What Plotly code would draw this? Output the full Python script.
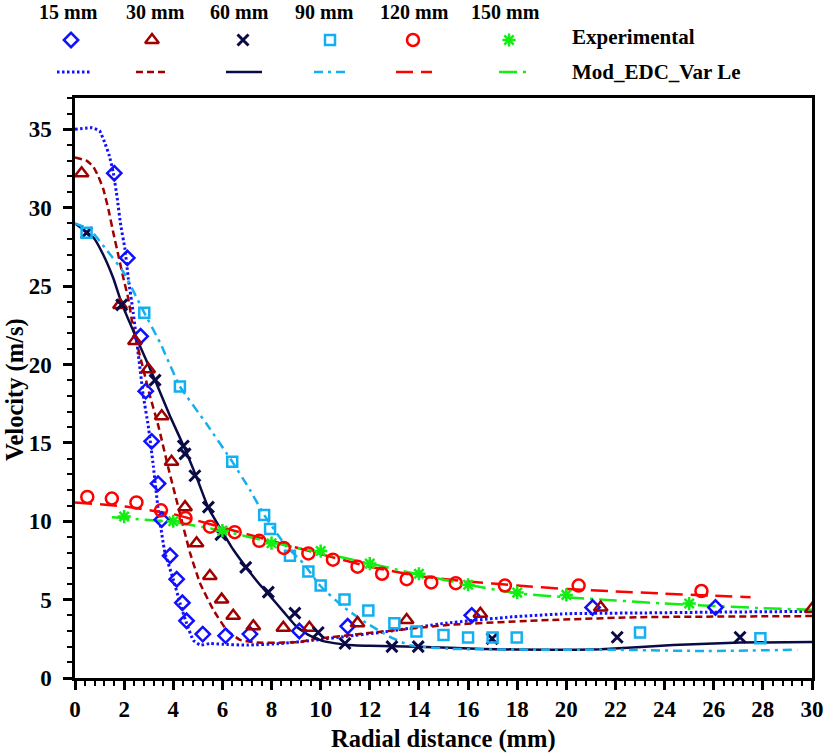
import plotly.graph_objects as go

# ---------------- data ----------------
series_names = ["15 mm", "30 mm", "60 mm", "90 mm", "120 mm", "150 mm"]
series_colors = ["#1010ff", "#a00000", "#0a0a45", "#12b0f0", "#ff0000", "#11ee11"]

# Experimental
exp15_x = [1.6, 2.13, 2.67, 2.88, 3.12, 3.38, 3.53, 3.87, 4.14, 4.37, 4.54, 5.2, 6.13, 7.12, 9.13, 11.1, 16.15, 21.07, 26.07]
exp15_y = [32.2, 26.8, 21.8, 18.3, 15.1, 12.4, 10.1, 7.8, 6.3, 4.8, 3.65, 2.8, 2.7, 2.8, 3.0, 3.3, 4.0, 4.5, 4.5]

exp30_x = [0.27, 1.83, 2.44, 2.98, 3.53, 3.93, 4.48, 4.95, 5.49, 5.97, 6.44, 7.26, 8.48, 9.54, 11.5, 13.5, 16.5, 21.4, 30.0]
exp30_y = [32.2, 23.8, 21.5, 19.7, 16.7, 13.8, 10.9, 8.6, 6.5, 5.0, 3.97, 3.3, 3.2, 3.2, 3.5, 3.7, 4.1, 4.5, 4.4]

exp60_x = [0.47, 1.9, 3.26, 4.41, 4.48, 4.88, 5.43, 5.94, 6.95, 7.87, 8.95, 9.9, 10.99, 12.9, 13.97, 16.98, 22.07, 27.07]
exp60_y = [28.4, 23.8, 19.0, 14.8, 14.3, 12.9, 10.9, 9.15, 7.06, 5.48, 4.14, 2.9, 2.2, 2.0, 2.0, 2.5, 2.6, 2.6]

exp90_x = [0.47, 2.82, 4.27, 6.4, 7.7, 7.94, 8.75, 9.5, 10.0, 10.97, 11.94, 13.0, 13.9, 15.0, 16.0, 17.0, 17.98, 23.0, 27.9]
exp90_y = [28.4, 23.3, 18.6, 13.8, 10.4, 9.5, 7.8, 6.8, 5.9, 5.0, 4.3, 3.5, 2.96, 2.75, 2.58, 2.58, 2.58, 2.9, 2.54]

exp120_x = [0.5, 1.5, 2.5, 3.5, 4.5, 5.5, 6.5, 7.5, 8.5, 9.5, 10.5, 11.5, 12.5, 13.5, 14.5, 15.5, 17.5, 20.5, 25.5]
exp120_y = [11.55, 11.45, 11.2, 10.7, 10.2, 9.65, 9.3, 8.75, 8.3, 7.95, 7.55, 7.1, 6.65, 6.3, 6.1, 6.05, 5.9, 5.9, 5.55]

exp150_x = [2, 4, 6, 8, 10, 12, 14, 16, 18, 20, 25]
exp150_y = [10.3, 10.0, 9.4, 8.6, 8.1, 7.3, 6.65, 5.95, 5.45, 5.3, 4.75]

# Model: Mod_EDC_Var Le
mod15_x = [0, 0.7, 1.0, 1.2, 1.4, 1.55, 1.72, 1.86, 2.03, 2.17, 2.37, 2.58, 2.78, 2.98, 3.19, 3.39, 3.66, 4.0, 4.27, 4.54, 4.82, 5.1, 5.5, 6.0, 7.0, 8.4, 9.7, 11.0, 12.4, 15.1, 17.8, 20.0, 23.0, 26.0, 30.0]
mod15_y = [35.0, 35.1, 34.9, 34.2, 33.3, 32.3, 30.6, 28.9, 27.4, 25.5, 23.3, 20.6, 18.0, 16.1, 13.5, 10.7, 8.0, 6.3, 4.8, 3.5, 2.4, 2.1, 2.2, 2.15, 2.1, 2.2, 2.4, 2.65, 2.9, 3.5, 3.9, 4.1, 4.15, 4.2, 4.25]

mod30_x = [0, 0.47, 0.75, 0.95, 1.15, 1.36, 1.56, 1.76, 1.97, 2.17, 2.37, 2.78, 3.05, 3.39, 3.8, 4.27, 4.68, 5.09, 5.63, 6.17, 6.72, 7.4, 8.48, 9.16, 9.84, 12.5, 15.3, 19.3, 23.0, 30.0]
mod30_y = [33.2, 33.0, 32.6, 32.0, 31.2, 29.9, 28.4, 27.0, 25.5, 24.2, 22.3, 19.7, 18.0, 16.1, 13.4, 10.5, 8.0, 6.05, 4.35, 3.07, 2.43, 2.26, 2.26, 2.3, 2.5, 2.96, 3.4, 3.7, 3.88, 3.95]

mod60_x = [0, 0.75, 1.15, 1.56, 1.9, 2.58, 3.26, 3.87, 4.48, 4.95, 5.43, 6.44, 6.95, 7.5, 7.9, 8.5, 9.0, 9.5, 10.1, 11.0, 12.0, 13.9, 16.6, 19.3, 21.4, 24.35, 27.1, 30.0]
mod60_y = [29.0, 28.1, 27.0, 25.5, 23.9, 21.4, 19.0, 16.7, 14.6, 12.8, 10.85, 8.2, 7.1, 6.0, 5.3, 4.2, 3.3, 2.75, 2.35, 2.12, 2.05, 2.0, 1.85, 1.8, 1.83, 2.1, 2.26, 2.3]

mod90_x = [0, 0.61, 1.29, 1.97, 2.82, 3.46, 4.27, 5.36, 6.4, 7.12, 7.7, 8.6, 9.29, 9.97, 10.9, 11.87, 12.8, 13.6, 15.3, 19.3, 22.0, 25.7, 29.4]
mod90_y = [29.0, 28.6, 27.3, 25.9, 23.3, 21.4, 18.6, 16.2, 13.8, 12.0, 10.4, 8.4, 7.33, 5.9, 4.56, 3.5, 2.64, 2.1, 1.86, 1.8, 1.8, 1.72, 1.8]

mod120_x = [0, 2, 4, 6, 8, 10, 12, 14, 16, 18, 20, 22, 24, 26, 27.5]
mod120_y = [11.2, 10.95, 10.45, 9.6, 8.75, 7.9, 7.1, 6.5, 6.15, 5.9, 5.68, 5.52, 5.38, 5.25, 5.15]

mod150_x = [1.5, 2, 4, 6, 8, 10, 12, 14, 16, 18, 20, 22, 24, 26, 28, 30]
mod150_y = [10.25, 10.2, 9.95, 9.4, 8.65, 8.0, 7.3, 6.6, 5.95, 5.4, 5.15, 4.95, 4.75, 4.6, 4.45, 4.35]

x_ticks = list(range(0, 31, 2))
y_ticks = list(range(0, 36, 5))

# ---------------- styles ----------------
FONT = "Liberation Serif"
exp_sets = [(exp15_x, exp15_y), (exp30_x, exp30_y), (exp60_x, exp60_y),
            (exp90_x, exp90_y), (exp120_x, exp120_y), (exp150_x, exp150_y)]
mod_sets = [(mod15_x, mod15_y), (mod30_x, mod30_y), (mod60_x, mod60_y),
            (mod90_x, mod90_y), (mod120_x, mod120_y), (mod150_x, mod150_y)]
symbols = ["diamond-open", "triangle-up-open", "x-thin-open", "square-open", "circle-open", "asterisk-open"]
msizes = [11, 12, 11, 10, 12, 11]
mlw = [2.5, 2.5, 3, 2.5, 2.5, 2.5]
dashes = ["2.5px,2.5px", "7px,4px", "solid", "9px,5px,3px,5px", "17px,8px", "18px,6px,3px,6px"]
lwidths = [3, 2.5, 2.5, 2.5, 2.5, 2.5]

fig = go.Figure()

for i in range(6):
    mx, my = mod_sets[i]
    fig.add_trace(go.Scatter(x=mx, y=my, mode="lines",
                             line=dict(color=series_colors[i], width=lwidths[i], dash=dashes[i],
                                       shape="spline", smoothing=0.4),
                             showlegend=False, hoverinfo="skip"))
for i in range(6):
    ex, ey = exp_sets[i]
    fig.add_trace(go.Scatter(x=ex, y=ey, mode="markers",
                             marker=dict(symbol=symbols[i], size=msizes[i], color=series_colors[i],
                                         line=dict(color=series_colors[i], width=mlw[i])),
                             showlegend=False))

# ---------------- custom legend (pixel-based overlay axis) ----------------
W, H = 825, 754
B = 76
plot_h = H - B           # 678
top_px = 98
ydom_top = (plot_h - top_px) / plot_h

leg_header_x = [68, 155, 239, 324, 414, 505]
leg_marker_x = [71, 152, 243, 330, 413, 509]
leg_line_x0 = [57, 136, 226, 314, 396, 499]
leg_line_x1 = [90, 169, 262, 347, 432, 526]
leg_header_y = 12
leg_marker_y = 40
leg_line_y = 72

for i in range(6):
    fig.add_trace(go.Scatter(x=[leg_marker_x[i]], y=[leg_marker_y], mode="markers",
                             xaxis="x2", yaxis="y2", cliponaxis=False,
                             marker=dict(symbol=symbols[i], size=msizes[i], color=series_colors[i],
                                         line=dict(color=series_colors[i], width=mlw[i])),
                             showlegend=False, hoverinfo="skip"))
    fig.add_trace(go.Scatter(x=[leg_line_x0[i], leg_line_x1[i]], y=[leg_line_y, leg_line_y], mode="lines",
                             xaxis="x2", yaxis="y2", cliponaxis=False,
                             line=dict(color=series_colors[i], width=lwidths[i], dash=dashes[i]),
                             showlegend=False, hoverinfo="skip"))
    fig.add_annotation(x=leg_header_x[i], y=leg_header_y, xref="x2", yref="y2",
                       text=series_names[i], showarrow=False, xanchor="center", yanchor="middle",
                       font=dict(family=FONT, size=20, color="black", weight="bold"))

fig.add_annotation(x=570, y=37, xref="x2", yref="y2", text="Experimental",
                   showarrow=False, xanchor="left", yanchor="middle",
                   font=dict(family=FONT, size=21, color="black", weight="bold"))
fig.add_annotation(x=570, y=leg_line_y, xref="x2", yref="y2", text="Mod_EDC_Var Le",
                   showarrow=False, xanchor="left", yanchor="middle",
                   font=dict(family=FONT, size=21, color="black", weight="bold"))

# axis titles
fig.add_annotation(x=15 / W, y=(plot_h - 390) / plot_h, xref="paper", yref="paper",
                   text="Velocity (m/s)", textangle=-90, showarrow=False,
                   xanchor="center", yanchor="middle",
                   font=dict(family=FONT, size=24.5, color="black", weight="bold"))
fig.add_annotation(x=443 / W, y=(plot_h - 739) / plot_h, xref="paper", yref="paper",
                   text="Radial distance (mm)", showarrow=False,
                   xanchor="center", yanchor="middle",
                   font=dict(family=FONT, size=24.5, color="black", weight="bold"))

tickfont = dict(family=FONT, size=23, color="black", weight="bold")
fig.update_layout(
    template="none",
    width=W, height=H,
    margin=dict(l=0, r=0, t=0, b=B),
    paper_bgcolor="white", plot_bgcolor="white",
    showlegend=False,
    font=dict(family=FONT),
    xaxis=dict(domain=[75 / W, 812 / W], range=[0, 30], tickvals=x_ticks,
               showgrid=False, zeroline=False, showline=True, linecolor="black", linewidth=2.5,
               mirror=True, ticks="outside", ticklen=9, tickwidth=2.5, tickcolor="black",
               tickfont=tickfont, automargin=False, ticklabelstandoff=0,
               minor=dict(dtick=0.4, tick0=0, ticks="outside", ticklen=5, tickwidth=2, tickcolor="black",
                          showgrid=False)),
    yaxis=dict(domain=[0, ydom_top], range=[0, 37], tickvals=y_ticks,
               showgrid=False, zeroline=False, showline=True, linecolor="black", linewidth=2.5,
               mirror=True, ticks="outside", ticklen=9, tickwidth=2.5, tickcolor="black",
               tickfont=tickfont, automargin=False, ticklabelstandoff=7,
               minor=dict(dtick=1, tick0=0, ticks="outside", ticklen=5, tickwidth=2, tickcolor="black",
                          showgrid=False)),
    xaxis2=dict(domain=[0, 1], range=[0, W], anchor="y2", visible=False, fixedrange=True),
    yaxis2=dict(domain=[ydom_top, 1], range=[top_px, 0], anchor="x2", visible=False, fixedrange=True),
)

fig.write_html("out.html", config={"displayModeBar": False},
               post_script="document.body.style.margin='0px';")
